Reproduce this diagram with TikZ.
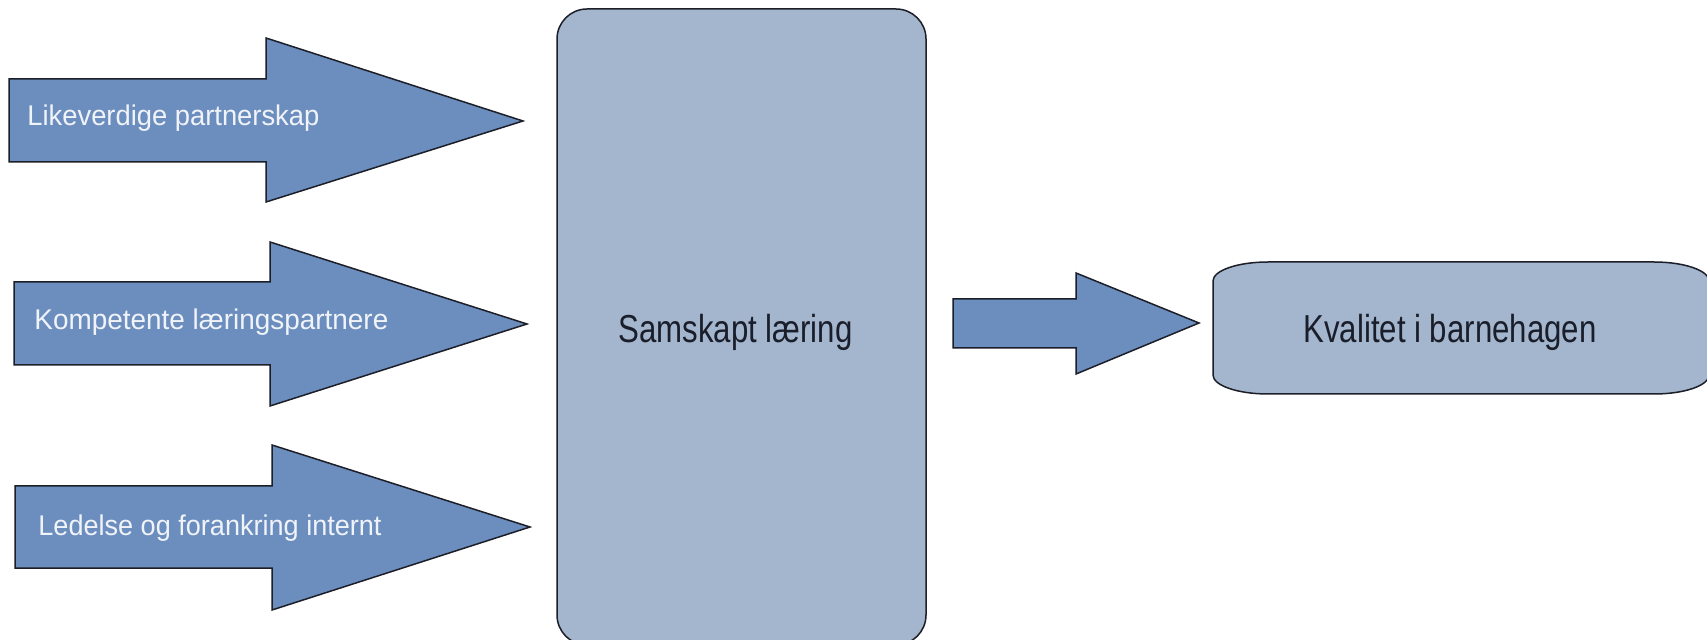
\documentclass[tikz,border=0pt]{standalone}
\usepackage{fontspec}
\setmainfont{Liberation Sans}
\definecolor{arrowblue}{RGB}{108,142,191}
\definecolor{boxblue}{RGB}{163,182,206}
\definecolor{edgecol}{RGB}{28,30,40}
\definecolor{darktext}{RGB}{26,30,42}
\definecolor{lighttext}{RGB}{240,243,248}
\begin{document}
\begin{tikzpicture}[x=0.5pt,y=-0.5pt,
  blockarrow/.style={fill=arrowblue,draw=edgecol,line width=0.75pt,line join=miter},
  softbox/.style={fill=boxblue,draw=edgecol,line width=0.75pt},
  armlabel/.style={anchor=base west,inner sep=0pt,text=lighttext,font=\fontsize{14.25pt}{17pt}\selectfont},
  boxlabel/.style={anchor=base west,inner sep=0pt,text=darktext,font=\fontsize{19.5pt}{23pt}\selectfont}]
\useasboundingbox (0,0) rectangle (1707,640);
\clip (0,0) rectangle (1707,640);
\fill[white] (0,0) rectangle (1707,640);
% input arrows
\draw[blockarrow] (9,79) -- (266,79) -- (266,38) -- (523,121) -- (266,202) -- (266,162) -- (9,162) -- cycle;
\draw[blockarrow] (14,282) -- (270,282) -- (270,242) -- (527,324) -- (270,406) -- (270,365) -- (14,365) -- cycle;
\draw[blockarrow] (15,486) -- (272,486) -- (272,445) -- (530,527) -- (272,610) -- (272,568) -- (15,568) -- cycle;
\node[armlabel] (lab1) at (27,126) {\scalebox{0.96}[1]{Likeverdige partnerskap}};
\node[armlabel] (lab2) at (34,330) {\scalebox{0.98}[1]{Kompetente læringspartnere}};
\node[armlabel] (lab3) at (38,536) {\scalebox{0.95}[1]{Ledelse og forankring internt}};
% central box
\draw[softbox,rounded corners=15pt] (557,9) rectangle (926,645);
\node[boxlabel] (samskapt) at (618,343) {\scalebox{0.8}[1]{Samskapt læring}};
% middle arrow
\draw[blockarrow] (953,299) -- (1076,299) -- (1076,273) -- (1199,323) -- (1076,374) -- (1076,348) -- (953,348) -- cycle;
% result box
\draw[softbox] (1268,262) -- (1654,262) arc[start angle=-90,end angle=0,x radius=55,y radius=19]
  -- (1709,375) arc[start angle=0,end angle=90,x radius=55,y radius=19]
  -- (1268,394) arc[start angle=90,end angle=180,x radius=55,y radius=19]
  -- (1213,281) arc[start angle=180,end angle=270,x radius=55,y radius=19] -- cycle;
\node[boxlabel] (kvalitet) at (1303,343) {\scalebox{0.8}[1]{Kvalitet i barnehagen}};
\end{tikzpicture}
\end{document}
